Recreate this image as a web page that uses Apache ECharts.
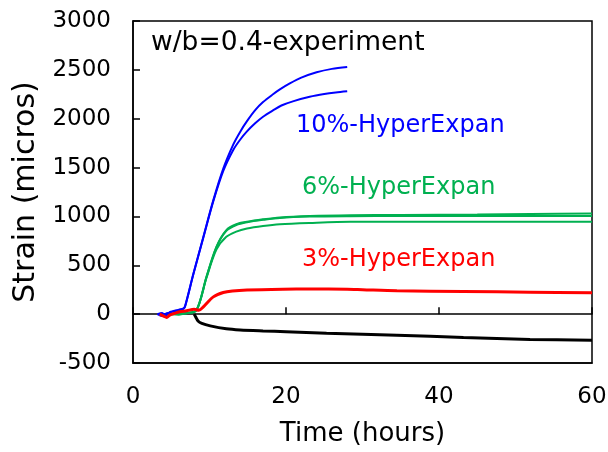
<!DOCTYPE html>
<html>
<head>
<meta charset="utf-8">
<script src="https://cdn.jsdelivr.net/npm/echarts@6/dist/echarts.min.js"></script>
<style>
  html, body { margin: 0; padding: 0; background: #fff; }
  #chart { width: 608px; height: 452px; }
</style>
</head>
<body>
<div id="chart"></div>
<script>
// time (hours), strain (micros)
var blueUpper = [[3.2,0],[3.8,12],[4.3,-15],[4.8,20],[5.4,30],[6.0,45],[6.6,60],[6.8,80],[7.9,416],[9.2,791],[10.5,1167],[11.8,1490],[13.1,1735],[14.0,1865],[14.9,1975],[16.0,2090],[17.0,2170],[18.3,2250],[19.2,2300],[20.5,2361],[22.0,2420],[24.0,2475],[26.0,2510],[28.0,2530]];
var blueLower = [[3.2,0],[3.8,-20],[4.3,5],[4.8,15],[5.4,35],[6.0,40],[6.6,55],[6.8,75],[7.9,410],[9.2,785],[10.5,1155],[11.8,1465],[13.1,1680],[14.0,1785],[14.9,1870],[16.0,1955],[17.0,2020],[18.3,2085],[19.4,2135],[21.0,2180],[23.1,2224],[25.0,2252],[26.5,2268],[28.0,2280]];
var green1 = [[5.0,0],[6.0,5],[7.0,10],[8.3,40],[9.6,382],[10.9,689],[12.2,860],[13.5,920],[14.9,945],[17.0,970],[19.2,990],[23.1,1005],[28.4,1013],[35,1015],[45,1020],[52,1025],[60,1030]];
var green2 = [[5.0,0],[6.0,8],[7.0,12],[8.3,42],[9.6,378],[10.9,684],[12.2,852],[13.5,912],[14.9,940],[17.0,965],[19.2,985],[23.1,998],[28.4,1003],[35,1005],[45,1005],[52,1004],[60,1005]];
var green3 = [[5.0,0],[6.0,-5],[7.0,10],[8.3,38],[9.6,370],[10.9,660],[12.2,791],[13.5,845],[14.9,877],[17.0,903],[19.2,921],[23.1,934],[28.4,945],[40,945],[50,945],[60,945]];
var red = [[3.5,0],[4.0,-20],[4.4,-34],[4.8,-10],[5.5,10],[6.1,24],[7.0,35],[8.0,50],[8.6,40],[9.2,75],[10.5,177],[11.8,222],[13.0,238],[14.9,248],[19.6,256],[23.1,258],[28.0,255],[30.0,250],[34.5,239],[43.2,232],[51.9,225],[60,218]];
var black = [[8.0,0],[8.2,-30],[8.5,-70],[9.0,-95],[10.1,-120],[12.2,-150],[14.0,-162],[17.0,-172],[20.0,-180],[25.3,-195],[30.0,-205],[34.5,-215],[43.2,-239],[51.9,-259],[60,-266]];

var font = 'DejaVu Sans';

function line(data, color, width) {
	return {
		type: 'line',
		data: data,
		showSymbol: false,
		smooth: 0.3,
		lineStyle: { color: color, width: width },
		itemStyle: { color: color }
	};
}

function plain(v) { return String(v); }

// plot box 133..592 x 21..363, zero of strain axis at 363 - 500*342/3500
var zeroFromBottom = 452 - (363 - 500 * 342 / 3500);

var chart = echarts.init(document.getElementById('chart'), null, { renderer: 'canvas' });
chart.setOption({
	animation: false,
	grid: [
		{
			left: 133, right: 16, top: 21, bottom: 89,
			outerBoundsMode: 'none', containLabel: false,
			show: true, borderColor: '#000', borderWidth: 1.5, backgroundColor: 'transparent'
		},
		// second grid only carries the zero line with its upward ticks
		{
			left: 133, right: 16, top: 21, bottom: zeroFromBottom,
			outerBoundsMode: 'none', containLabel: false
		}
	],
	xAxis: [
		{
			type: 'value',
			gridIndex: 0,
			min: 0, max: 60, interval: 20,
			name: 'Time (hours)',
			nameLocation: 'middle',
			nameGap: 58,
			nameTextStyle: { fontFamily: font, fontSize: 26, color: '#000' },
			axisLine: { onZero: false, lineStyle: { color: '#000', width: 1.5 } },
			axisTick: { show: false },
			axisLabel: { margin: 23, fontFamily: font, fontSize: 23, color: '#000', formatter: plain },
			splitLine: { show: false }
		},
		{
			type: 'value',
			gridIndex: 1,
			min: 0, max: 60, interval: 20,
			axisLine: { onZero: false, lineStyle: { color: '#000', width: 1.5 } },
			axisTick: { inside: true, length: 7, lineStyle: { color: '#000', width: 1.5 } },
			axisLabel: { show: false },
			splitLine: { show: false }
		}
	],
	yAxis: [
		{
			type: 'value',
			gridIndex: 0,
			min: -500, max: 3000, interval: 500,
			name: 'Strain (micros)',
			nameLocation: 'middle',
			nameGap: 88,
			nameTextStyle: { fontFamily: font, fontSize: 30, color: '#000' },
			axisLine: { show: true, onZero: false, lineStyle: { color: '#000', width: 1.5 } },
			axisTick: { inside: true, length: 7, lineStyle: { color: '#000', width: 1.5 } },
			axisLabel: { margin: 22, fontFamily: font, fontSize: 23, color: '#000', formatter: plain },
			splitLine: { show: false }
		},
		{
			type: 'value',
			gridIndex: 1,
			min: 0, max: 1,
			show: false
		}
	],
	graphic: [
		{ type: 'text', left: 151, top: 30, style: { text: 'w/b=0.4-experiment', fontFamily: font, fontSize: 26.5, fill: '#000' } },
		{ type: 'text', left: 296, top: 114, style: { text: '10%-HyperExpan', fontFamily: font, fontSize: 24, fill: '#0000ff' } },
		{ type: 'text', left: 302, top: 176, style: { text: '6%-HyperExpan', fontFamily: font, fontSize: 24, fill: '#00b050' } },
		{ type: 'text', left: 302, top: 248, style: { text: '3%-HyperExpan', fontFamily: font, fontSize: 24, fill: '#ff0000' } }
	],
	series: [
		line(blueUpper, '#0000ff', 2),
		line(blueLower, '#0000ff', 2),
		line(green1, '#00b050', 2),
		line(green2, '#00b050', 2),
		line(green3, '#00b050', 2),
		line(red, '#ff0000', 3),
		line(black, '#000000', 3)
	]
});
</script>
</body>
</html>
